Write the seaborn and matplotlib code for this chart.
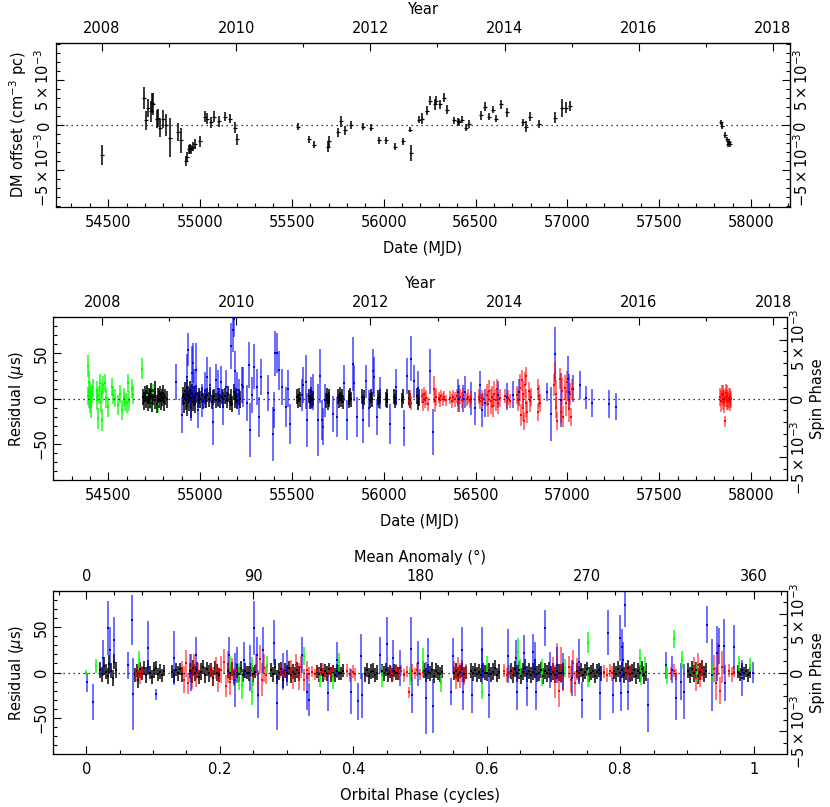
import numpy as np
import pandas as pd
import matplotlib
matplotlib.use("Agg")
import matplotlib.pyplot as plt
import seaborn as sns
from matplotlib.ticker import MultipleLocator, FixedLocator, FuncFormatter

sns.set_style("ticks")
plt.rcParams['font.family'] = ['DejaVu Sans']
plt.rcParams['mathtext.fontset'] = 'dejavusans'
for k in ('text.color', 'axes.labelcolor', 'xtick.color', 'ytick.color', 'axes.edgecolor'):
    plt.rcParams[k] = 'black'

# ---------------- DATA ----------------
# Panel 1: DM offsets (units of 1e-3 cm^-3 pc)
dm_mjd = [54467, 54693, 54705, 54718, 54731, 54738, 54744, 54764, 54771, 54782, 54800, 54814, 54836,
          54880, 54895, 54925, 54931, 54938, 54945, 54953, 54960, 54975, 55002, 55029, 55036, 55060,
          55078, 55104, 55136, 55162, 55189, 55202, 55536, 55591, 55622, 55696, 55704, 55751, 55767,
          55787, 55820, 55885, 55931, 55976, 56014, 56060, 56103, 56141, 56147, 56194, 56210, 56237,
          56252, 56279, 56286, 56305, 56326, 56346, 56385, 56405, 56410, 56426, 56450, 56467, 56532,
          56550, 56572, 56594, 56614, 56636, 56669, 56756, 56774, 56796, 56845, 56934, 56972, 56992,
          57015, 57837, 57844, 57857, 57868, 57877, 57882, 57888]
dm_val = [-3.3, 3.0, 0.5, 1.9, 1.5, 2.4, 2.3, 0.7, 0.8, -0.3, 0.7, 0.0, -1.4,
          -0.8, -1.7, -4.0, -3.5, -2.7, -2.6, -2.7, -2.4, -2.1, -1.8, 0.9, 0.7, 0.3,
          0.9, 0.4, 0.9, 0.7, -0.3, -1.6, -0.2, -1.6, -2.2, -2.4, -1.8, -0.8, 0.4,
          -0.6, 0.0, -0.2, -0.3, -1.7, -1.7, -2.4, -1.8, -0.5, -3.1, 0.6, 0.7, 1.6,
          2.7, 2.3, 2.7, 2.3, 3.0, 1.7, 0.5, 0.4, 0.3, 0.6, -0.3, 0.1, 1.1,
          2.0, 0.9, 1.7, 0.7, 2.3, 1.4, 0.3, -0.2, 0.9, 0.1, 0.8, 1.9, 1.9,
          2.1, 0.3, -0.1, -1.1, -1.6, -2.1, -1.9, -2.1]
dm_err = [1.1, 1.2, 1.0, 1.0, 1.2, 1.1, 1.2, 1.0, 1.0, 1.0, 1.0, 1.2, 2.2,
          1.0, 1.4, 0.6, 0.5, 0.5, 0.5, 0.5, 0.5, 0.6, 0.6, 0.6, 0.6, 0.6,
          0.6, 0.6, 0.5, 0.5, 0.6, 0.6, 0.4, 0.4, 0.4, 0.6, 0.6, 0.5, 0.6,
          0.5, 0.4, 0.4, 0.4, 0.4, 0.4, 0.4, 0.4, 0.3, 0.9, 0.4, 0.6, 0.5,
          0.5, 0.6, 0.5, 0.5, 0.5, 0.5, 0.4, 0.4, 0.4, 0.4, 0.4, 0.4, 0.5,
          0.5, 0.4, 0.4, 0.4, 0.5, 0.5, 0.4, 0.6, 0.5, 0.4, 0.6, 1.0, 0.6,
          0.6, 0.3, 0.3, 0.3, 0.3, 0.3, 0.3, 0.3]

# Panel 2: timing residuals vs MJD  (mjd, residual us, error us)
p2_green = [(54387, 36, 12), (54390, 3, 10), (54393, 18, 12), (54396, -1, 10), (54400, 8, 10),
            (54402, -6, 10), (54405, 2, 11), (54408, -9, 12), (54411, 5, 10), (54418, 12, 10),
            (54436, 9, 10), (54440, -2, 11), (54446, -22, 12), (54450, 4, 10), (54455, 17, 10),
            (54460, -4, 11), (54464, -24, 12), (54468, 7, 10), (54473, 15, 10), (54482, 17, 10),
            (54490, 1, 11), (54500, -9, 11), (54518, 13, 10), (54524, 4, 10), (54536, 1, 10),
            (54554, -7, 11), (54564, 5, 10), (54573, -13, 11), (54585, 2, 10), (54591, -4, 10),
            (54600, -5, 11), (54609, 17, 10), (54614, -3, 11), (54627, 11, 10), (54632, 4, 10),
            (54681, 33, 12), (54709, 4, 10), (54727, -1, 11), (54745, 6, 10), (54772, -6, 10)]
p2_black = [(54690, 2, 9), (54696, -3, 10), (54702, 5, 9), (54707, -1, 10), (54712, 6, 9),
            (54718, -4, 10), (54723, 3, 9), (54729, 0, 10), (54735, 8, 9), (54740, -5, 10),
            (54746, 2, 9), (54752, -2, 10), (54757, 10, 9), (54763, -6, 10), (54769, 3, 9),
            (54775, -1, 10), (54781, 5, 9), (54787, -3, 10), (54793, 1, 9), (54799, 6, 9),
            (54805, -4, 10), (54811, 2, 9), (54817, -1, 9),
            (54908, 3, 10), (54913, -5, 11), (54918, 8, 10), (54922, -2, 11), (54927, 12, 10),
            (54931, -8, 11), (54935, 4, 10), (54940, -3, 11), (54944, 9, 10), (54949, -10, 11),
            (54953, 1, 10), (54958, 6, 10), (54963, -4, 10), (54968, 2, 10), (54974, -6, 10),
            (54980, 5, 10), (54987, -2, 9), (54994, 3, 9), (55001, -1, 9), (55009, 4, 9), (55015, -3, 9),
            (55024, 2, 8), (55030, -3, 8), (55038, 4, 8), (55046, -1, 8), (55055, 5, 8),
            (55062, -4, 8), (55070, 1, 8), (55078, 3, 8), (55086, -2, 8), (55095, 0, 8),
            (55103, 4, 8), (55110, -3, 8), (55118, 2, 8), (55125, -1, 8),
            (55138, 3, 9), (55146, -2, 9), (55154, 5, 9), (55161, -4, 9), (55168, 1, 9),
            (55175, -6, 9), (55182, 7, 9), (55189, -1, 9), (55196, 3, 9), (55203, -3, 9),
            (55210, 2, 9), (55216, -1, 9),
            (55528, 2, 8), (55533, -3, 8), (55537, 4, 8), (55541, -1, 8),
            (55590, 3, 8), (55596, -4, 8), (55601, 1, 8), (55606, 5, 8), (55611, -2, 8), (55615, 0, 8),
            (55686, -2, 8), (55691, 4, 8), (55695, -5, 8), (55699, 2, 8), (55703, -1, 8),
            (55752, 2, 8), (55757, -3, 8), (55762, 5, 8), (55767, -1, 8), (55772, 3, 8), (55777, -4, 8),
            (55808, 1, 8), (55813, -3, 8), (55818, 4, 8), (55823, -1, 8),
            (55880, 2, 8), (55885, -4, 8), (55890, 1, 8),
            (55924, -2, 8), (55929, 3, 8), (55933, -1, 8),
            (55970, 1, 8), (55975, -3, 8), (55979, 2, 8),
            (56011, -1, 8), (56016, 3, 8), (56020, -2, 8),
            (56057, 2, 8), (56062, -3, 8), (56066, 1, 8),
            (56099, -2, 8), (56104, 2, 8),
            (56139, 1, 8), (56144, -2, 8),
            (56183, 3, 9), (56187, -4, 9), (56191, 1, 9)]
p2_blue = [(54868, 18, 20), (54899, -18, 20), (54926, 24, 25), (54936, 54, 18), (54948, -5, 20),
           (54954, 28, 30), (54959, 39, 22), (54966, 13, 20), (54977, 31, 30), (54990, -13, 20),
           (55008, -2, 18), (55026, 9, 20), (55035, 24, 22), (55054, 15, 20), (55072, -26, 25),
           (55084, 20, 18), (55099, 11, 20), (55112, 18, 18), (55126, -9, 20), (55139, 13, 18),
           (55166, 58, 25), (55177, 76, 25), (55184, 88, 20), (55190, 30, 22), (55199, 9, 20),
           (55213, 2, 20), (55226, 15, 20), (55235, 13, 22), (55253, -5, 20), (55266, 37, 25),
           (55271, -35, 30), (55284, 4, 20), (55293, 35, 25), (55308, 13, 20), (55322, -20, 22),
           (55331, 24, 20), (55371, 6, 20), (55395, -39, 30), (55402, -13, 20), (55410, 50, 25),
           (55417, 50, 22), (55431, 31, 22), (55447, 13, 20), (55466, -9, 22), (55477, 11, 20),
           (55489, -28, 22), (55552, 4, 18), (55561, 15, 20), (55576, 18, 30), (55583, -24, 30),
           (55601, 6, 18), (55616, 7, 20), (55639, -24, 40), (55652, 25, 30), (55661, -24, 22),
           (55670, -31, 20), (55679, -2, 18), (55725, -17, 20), (55743, -20, 22), (55785, 17, 20),
           (55801, -24, 22), (55830, 38, 30), (55839, 17, 20), (55852, -20, 22), (55885, -24, 25),
           (55903, 19, 18), (55919, -11, 20), (55943, 30, 25), (55948, 24, 22), (55965, -20, 20),
           (55979, 6, 18), (56033, -28, 22), (56066, 13, 20), (56110, -33, 20), (56128, 25, 20),
           (56146, 44, 25), (56164, 19, 18), (56188, 12, 18), (56251, 30, 25), (56270, -37, 25),
           (56406, 7, 15), (56411, 0, 15), (56433, 0, 15), (56443, 7, 18), (56473, 0, 18),
           (56497, -11, 18), (56524, 15, 15), (56534, -13, 18), (56552, -5, 15), (56619, 4, 15),
           (56670, 2, 15), (56703, 4, 15), (56734, 7, 15), (56887, 7, 10), (56909, -17, 30),
           (56932, 49, 30), (56965, -2, 30), (57001, 22, 25), (57010, 7, 20), (57032, 11, 15),
           (57068, 15, 15), (57101, 1, 13), (57135, -5, 15), (57228, -6, 15), (57263, -9, 15)]
p2_red = [(56135, -2, 6), (56143, 2, 7), (56150, -5, 8),
          (56208, 3, 8), (56214, -4, 10), (56220, 5, 8), (56226, -2, 9), (56232, 1, 8), (56238, -6, 8),
          (56272, 10, 15), (56278, -3, 12), (56285, 2, 10),
          (56298, 1, 6), (56305, -2, 7), (56312, 3, 6), (56320, -1, 7), (56328, 2, 6), (56336, -2, 6),
          (56362, 1, 7), (56370, -3, 8), (56378, 2, 7), (56386, -1, 8),
          (56398, 3, 8), (56406, -5, 10), (56415, 2, 8), (56424, -2, 9), (56432, 4, 8),
          (56452, -1, 7), (56460, 2, 8), (56470, -3, 7), (56477, 1, 7),
          (56516, 2, 8), (56524, -3, 9), (56532, 1, 8), (56540, -1, 7),
          (56562, 4, 12), (56568, -6, 14), (56575, 8, 12), (56582, -3, 14), (56588, 2, 12),
          (56595, -8, 12), (56602, 5, 14), (56610, -2, 12), (56617, 10, 12), (56624, -5, 12), (56631, 1, 10),
          (56662, 3, 8), (56670, -2, 8), (56678, 1, 8), (56686, -3, 8),
          (56725, 4, 10), (56732, -2, 12), (56740, 12, 15), (56746, -18, 12), (56752, 20, 12),
          (56756, -10, 15), (56760, 5, 14), (56764, -25, 10), (56768, 15, 14), (56772, -5, 15),
          (56776, 25, 10), (56779, -15, 12),
          (56790, 8, 10), (56795, -3, 12), (56800, 2, 10), (56838, 10, 12), (56842, -15, 10),
          (56846, 3, 12), (56850, -5, 10),
          (56924, 15, 12), (56930, 28, 12), (56935, -10, 12), (56938, 5, 15), (56942, -25, 10),
          (56960, 22, 12), (56966, -15, 12), (56972, 8, 15), (56978, -20, 12), (56984, 12, 14),
          (56990, -5, 14), (56995, 18, 12), (57006, -12, 14), (57012, 5, 12), (57018, -20, 10), (57023, 10, 12),
          (57832, 2, 10), (57836, -3, 12), (57840, 5, 10), (57844, -1, 12), (57848, 4, 11),
          (57852, -4, 12), (57856, 1, 10), (57860, -25, 6), (57862, 6, 10), (57866, -2, 11),
          (57870, 3, 12), (57874, -3, 10), (57878, 1, 11), (57882, -4, 10), (57886, 2, 10), (57890, -1, 9)]

# Panel 3: residuals vs orbital phase  (phase, residual us, error us)
p3_green = [(0.000, 0, 3), (0.015, 7, 8), (0.079, 14, 10), (0.215, 8, 10), (0.2285, -4, 15),
            (0.2325, -14, 15), (0.2475, -21, 15), (0.2485, 7, 10), (0.271, 8, 10),
            (0.326, 18, 10), (0.350, -6, 10), (0.369, -8, 10), (0.379, 12, 10), (0.4425, -4, 12),
            (0.4855, -4, 10), (0.504, 12, 15), (0.5315, -12, 10), (0.5925, -21, 8), (0.600, 8, 10),
            (0.6475, 23, 15), (0.650, 5, 10), (0.6825, 0, 15), (0.7175, 5, 10), (0.7515, 33, 12),
            (0.7525, -6, 10), (0.830, 16, 10), (0.831, -4, 10), (0.8375, 7, 10), (0.870, -3, 10),
            (0.881, 37, 10), (0.8925, 14, 10), (0.915, 0, 10), (0.939, 0, 10), (0.9775, 10, 8),
            (0.995, 8, 8)]
p3_black = [(0.021, 3, 9), (0.024, -2, 8), (0.026, 7, 10), (0.029, 1, 8), (0.032, -4, 9), (0.034, 9, 10),
            (0.037, 2, 8), (0.040, -6, 9), (0.042, 12, 8), (0.045, 3, 9),
            (0.073, -3, 8), (0.076, 2, 7), (0.078, -8, 9), (0.081, 4, 8), (0.084, -1, 7), (0.087, 5, 8),
            (0.090, -3, 9), (0.093, 6, 8), (0.095, 0, 7), (0.098, -5, 8), (0.101, 3, 9), (0.104, 5, 8),
            (0.107, -2, 7), (0.110, 1, 8), (0.113, -3, 7), (0.116, 2, 6),
            (0.128, 1, 7), (0.131, -4, 8), (0.134, 3, 7), (0.137, -1, 8), (0.140, 4, 7), (0.143, -2, 8),
            (0.155, 2, 8), (0.158, -4, 8), (0.160, 5, 9), (0.163, -1, 8), (0.166, 3, 9), (0.169, -5, 8),
            (0.172, 1, 9), (0.175, 6, 8), (0.178, -3, 9), (0.181, 4, 8), (0.184, -1, 9), (0.187, 3, 8),
            (0.190, -6, 9), (0.193, 5, 8), (0.196, 0, 9), (0.199, -3, 8),
            (0.213, 2, 8), (0.216, -1, 7), (0.219, 4, 8), (0.222, -5, 8), (0.225, 1, 7), (0.228, -2, 8),
            (0.231, 5, 8), (0.234, -3, 7), (0.237, 2, 8), (0.240, 0, 7), (0.243, -1, 8), (0.246, 3, 7),
            (0.249, -2, 8), (0.252, 1, 7),
            (0.276, 3, 8), (0.279, -2, 8), (0.282, 6, 9), (0.285, -5, 8), (0.288, 1, 9), (0.291, 4, 8),
            (0.294, -8, 9), (0.297, 2, 8), (0.300, -1, 9), (0.303, 5, 8), (0.306, -3, 9), (0.309, 1, 8),
            (0.312, -2, 8), (0.315, 3, 9), (0.318, -1, 8),
            (0.346, 1, 7), (0.349, -2, 8), (0.352, 3, 7), (0.355, -3, 8), (0.358, 2, 7), (0.361, -1, 8),
            (0.364, 4, 7), (0.367, -2, 8), (0.370, 1, 7), (0.373, -3, 8), (0.376, 2, 7), (0.379, 0, 8),
            (0.382, -1, 7), (0.385, 2, 7),
            (0.418, -2, 8), (0.421, 3, 8), (0.424, -4, 9), (0.427, 1, 8), (0.430, 2, 8), (0.433, -3, 8),
            (0.436, 0, 8), (0.443, 2, 7), (0.446, -1, 8), (0.449, 3, 7), (0.452, -2, 8), (0.455, 1, 7),
            (0.458, -3, 8), (0.461, 2, 7), (0.464, 0, 8), (0.467, -1, 7),
            (0.506, 2, 8), (0.509, -3, 8), (0.512, 1, 8), (0.515, -1, 8), (0.518, 3, 9), (0.521, -4, 8),
            (0.524, 2, 8), (0.527, 0, 8), (0.530, -2, 8), (0.533, 1, 7),
            (0.551, -1, 7), (0.554, 2, 8), (0.557, -3, 8), (0.560, 1, 7), (0.563, 3, 8), (0.566, -2, 8),
            (0.569, 0, 7), (0.576, 2, 8), (0.579, -1, 8), (0.582, 3, 8), (0.585, -2, 8), (0.588, 1, 8),
            (0.591, -3, 8), (0.594, 2, 8), (0.597, 0, 8), (0.600, -1, 8), (0.603, 3, 8), (0.606, -2, 8),
            (0.609, 1, 9), (0.612, 5, 9), (0.615, -3, 8), (0.618, 1, 8),
            (0.636, 2, 9), (0.639, -3, 9), (0.642, 4, 9), (0.645, -1, 9), (0.648, 3, 10), (0.651, -4, 9),
            (0.654, 1, 9), (0.657, 5, 10), (0.660, -2, 9), (0.663, 2, 9), (0.666, -3, 9), (0.669, 1, 9),
            (0.672, 4, 10), (0.675, -2, 9), (0.678, 0, 9), (0.681, 3, 9), (0.684, -4, 9), (0.687, 2, 9),
            (0.690, -1, 9), (0.693, 3, 9), (0.696, -2, 9), (0.699, 1, 9), (0.702, -3, 9), (0.705, 2, 9),
            (0.708, 0, 9), (0.711, -1, 9), (0.714, 2, 9),
            (0.736, 2, 8), (0.739, -1, 8), (0.742, 3, 8), (0.745, -3, 8), (0.748, 1, 8), (0.751, 4, 8),
            (0.754, -2, 8), (0.757, 0, 8), (0.760, 2, 8), (0.763, -4, 8), (0.766, 1, 8), (0.769, 3, 8),
            (0.772, -1, 8),
            (0.791, 2, 9), (0.794, -2, 9), (0.797, 4, 9), (0.800, -1, 9), (0.803, 3, 9), (0.806, -3, 9),
            (0.809, 1, 9), (0.812, 5, 9), (0.815, -2, 9), (0.818, 0, 9), (0.821, 3, 9), (0.824, -4, 9),
            (0.827, 2, 9), (0.830, -1, 9), (0.833, 4, 9), (0.836, -3, 10), (0.839, 1, 10),
            (0.901, 2, 8), (0.904, -3, 9), (0.907, 4, 9), (0.910, -1, 9), (0.913, 3, 9), (0.916, -4, 9),
            (0.919, 1, 9), (0.922, 5, 9), (0.925, -2, 9), (0.928, 2, 8),
            (0.976, 1, 7), (0.979, -2, 7), (0.982, 3, 7), (0.985, -1, 7), (0.988, 2, 7), (0.991, -3, 7),
            (0.994, 0, 6)]
p3_blue = [(0.0015, -11, 11), (0.010, -33, 20), (0.025, 16, 20), (0.0325, 49, 30), (0.036, 25, 25),
           (0.0415, 36, 25), (0.062, 8, 15), (0.068, 58, 28), (0.070, -24, 40), (0.0925, 27, 30),
           (0.104, -24, 6), (0.1315, 16, 30), (0.1575, 0, 20), (0.164, 19, 20), (0.2135, 19, 20),
           (0.2235, -8, 30), (0.226, 8, 20), (0.2365, 14, 20), (0.245, 5, 25), (0.251, 49, 30),
           (0.255, 19, 20), (0.2575, -25, 25), (0.265, 25, 25), (0.2815, 33, 25), (0.285, -34, 30),
           (0.295, 1, 20), (0.300, 5, 20),
           (0.3225, 19, 20), (0.330, -21, 20), (0.334, -30, 18), (0.3625, -23, 20), (0.375, 14, 20),
           (0.3965, -21, 25), (0.4075, -32, 20), (0.4115, 18, 25), (0.4125, -25, 25), (0.440, 19, 20),
           (0.450, 31, 30), (0.460, 16, 20), (0.470, 5, 20), (0.4865, 26, 35), (0.4875, -25, 20),
           (0.4975, 10, 25), (0.509, -28, 40), (0.5125, 18, 20), (0.520, -37, 30), (0.5465, -21, 15),
           (0.550, 18, 20), (0.5625, 25, 25), (0.565, -21, 20), (0.5785, -25, 20), (0.5925, 25, 25),
           (0.5935, 7, 20), (0.6035, -25, 25), (0.6325, 18, 30), (0.6435, 16, 20), (0.645, -21, 20),
           (0.656, 21, 20), (0.660, -17, 20), (0.669, 23, 20),
           (0.6725, 14, 20), (0.674, -21, 20), (0.6875, 49, 20), (0.695, 3, 20), (0.705, 8, 20),
           (0.715, 1, 20), (0.7275, -6, 20), (0.739, 12, 25), (0.7425, -30, 20), (0.770, -23, 30),
           (0.781, 44, 25), (0.789, -25, 20), (0.800, 38, 25), (0.8025, 28, 20), (0.804, 14, 20),
           (0.8015, -23, 20), (0.8075, 75, 25), (0.8115, -21, 20), (0.8415, -36, 30), (0.869, 8, 15),
           (0.8775, 3, 15), (0.8835, -28, 25), (0.891, -10, 20), (0.896, -21, 30), (0.930, 53, 20),
           (0.9375, -3, 40), (0.945, 21, 30), (0.9475, 29, 20), (0.955, 29, 30), (0.9565, -12, 20),
           (0.971, 28, 25), (0.9825, -6, 20), (0.9985, 0, 12)]
p3_red = [(0.074, -3, 8), (0.077, 2, 7), (0.080, -5, 8), (0.083, 1, 6),
          (0.144, 3, 10), (0.147, -8, 15), (0.150, 10, 15), (0.153, -12, 12), (0.156, 5, 15),
          (0.159, -4, 14), (0.162, 8, 12), (0.165, -6, 10), (0.168, 2, 8),
          (0.186, 2, 8), (0.190, -4, 10), (0.194, 5, 12), (0.198, -8, 14), (0.202, 3, 15),
          (0.206, 12, 14), (0.209, -15, 12), (0.212, 6, 18), (0.215, -10, 15), (0.218, 4, 12),
          (0.221, -5, 10), (0.224, 2, 8),
          (0.246, 3, 8), (0.250, -5, 10), (0.254, 8, 12), (0.257, -12, 15), (0.260, 15, 15),
          (0.263, -8, 18), (0.266, 5, 15), (0.269, -3, 10),
          (0.290, 2, 8), (0.294, -3, 8), (0.298, 1, 7),
          (0.306, 4, 10), (0.310, -6, 12), (0.314, 8, 12), (0.318, -4, 15), (0.322, 6, 12),
          (0.326, -8, 12), (0.330, 3, 10), (0.334, -2, 8),
          (0.338, 1, 6), (0.342, -2, 6), (0.346, 2, 6), (0.350, -1, 6), (0.354, 3, 7), (0.358, -2, 6),
          (0.362, 1, 6), (0.366, -3, 7), (0.370, 2, 6),
          (0.391, 2, 7), (0.395, -3, 8), (0.399, 1, 7), (0.403, -2, 7),
          (0.456, 1, 6), (0.460, -2, 7), (0.464, 3, 6), (0.468, -1, 7), (0.472, 2, 6), (0.476, -3, 7),
          (0.480, 1, 6), (0.484, -22, 6), (0.488, 2, 7), (0.492, -1, 6), (0.496, 3, 7), (0.500, -2, 6),
          (0.504, 1, 6),
          (0.551, 3, 10), (0.554, -6, 12), (0.557, 5, 12), (0.560, -3, 14), (0.563, 2, 12),
          (0.566, -4, 10), (0.569, 1, 8),
          (0.626, 2, 7), (0.630, -3, 8), (0.634, 1, 7), (0.638, -1, 7),
          (0.700, 5, 12), (0.703, -10, 18), (0.706, 15, 18), (0.709, -20, 18), (0.712, 8, 20), (0.715, -5, 15),
          (0.723, 6, 12), (0.726, -8, 15), (0.729, 10, 15), (0.732, -12, 14), (0.735, 4, 12), (0.738, -3, 10),
          (0.776, 1, 7), (0.780, -3, 8), (0.784, 2, 7), (0.788, -1, 8),
          (0.808, 2, 8), (0.812, -3, 8), (0.815, 1, 7),
          (0.876, -1, 7), (0.880, 2, 7), (0.884, -2, 6),
          (0.911, 5, 12), (0.914, -6, 14), (0.917, 8, 14), (0.920, -4, 12), (0.923, 2, 10),
          (0.940, 4, 15), (0.943, -12, 18), (0.946, 15, 18), (0.949, -20, 15), (0.952, 6, 18),
          (0.963, 2, 7), (0.967, -2, 8), (0.970, 1, 6)]

year_ticks = [2008, 2010, 2012, 2014, 2016, 2018]
year_minor = [2007, 2008, 2009, 2010, 2011, 2012, 2013, 2014, 2015, 2016, 2017, 2018]
anom_ticks = [0, 90, 180, 270, 360]
SPIN_PERIOD_US = 13.0   # spin phase (1e-3) = residual(us) / 13.0
FS = 10.5

# ---------------- HELPERS ----------------
def mjd2yr(m):
    return 2000.0 + (np.asarray(m, dtype=float) - 51544.5) / 365.25

def yr2mjd(y):
    return (np.asarray(y, dtype=float) - 2000.0) * 365.25 + 51544.5

def sci(v, pos):
    if abs(v) < 1e-9:
        return "0"
    return r"$%d\times10^{-3}$" % int(round(v))

def style_ticks(ax_like, axis, pad=None):
    kw = dict(direction='in', length=6, width=0.8, labelsize=FS, colors='black')
    if pad is not None:
        kw['pad'] = pad
    ax_like.tick_params(axis=axis, which='major', **kw)
    ax_like.tick_params(axis=axis, which='minor', direction='in', length=3.2, width=0.8)

def to_df(rows):
    return pd.DataFrame(rows, columns=['x', 'y', 'e'])

def draw_series(ax, rows, color, bar_alpha, lw=1.15, s=3.5):
    df = to_df(rows)
    ax.vlines(df['x'], df['y'] - df['e'], df['y'] + df['e'], colors=color,
              linewidth=lw, alpha=bar_alpha, zorder=2)
    sns.scatterplot(data=df, x='x', y='y', ax=ax, color=color, s=s, marker='s',
                    linewidth=0, legend=False, zorder=3)

def rotate_ylabels(ax_like):
    for t in ax_like.get_yticklabels():
        t.set_rotation(90)
        t.set_va('center')

def spin_axis(ax):
    sy = ax.secondary_yaxis('right', functions=(lambda v: v / SPIN_PERIOD_US,
                                                lambda v: v * SPIN_PERIOD_US))
    sy.yaxis.set_major_locator(FixedLocator([-5, 0, 5]))
    sy.yaxis.set_minor_locator(MultipleLocator(1))
    sy.yaxis.set_major_formatter(FuncFormatter(sci))
    style_ticks(sy, 'y', pad=2)
    rotate_ylabels(sy)
    sy.set_ylabel('Spin Phase', fontsize=FS, labelpad=1)
    return sy

def year_axis(ax):
    sx = ax.secondary_xaxis('top', functions=(mjd2yr, yr2mjd))
    sx.xaxis.set_major_locator(FixedLocator(year_ticks))
    sx.xaxis.set_minor_locator(FixedLocator(year_minor))
    sx.xaxis.set_major_formatter(FuncFormatter(lambda v, p: "%d" % round(v)))
    style_ticks(sx, 'x', pad=5)
    sx.set_xlabel('Year', fontsize=FS, labelpad=5)
    return sx

fig = plt.figure(figsize=(8.30, 8.07), dpi=100)
W, H = 830.0, 807.0
def box(l, r, t, b):
    return [l / W, 1 - b / H, (r - l) / W, (b - t) / H]

XL_MJD = (54199, 58195)
BLUE = (0.0, 0.0, 1.0)
RED = (1.0, 0.0, 0.0)
GREEN = (0.0, 1.0, 0.0)

# ---------------- PANEL 1 ----------------
ax1 = fig.add_axes(box(56, 790, 43, 207))
dm_df = pd.DataFrame({'mjd': dm_mjd, 'dm': dm_val, 'err': dm_err})
ax1.vlines(dm_df['mjd'], dm_df['dm'] - dm_df['err'], dm_df['dm'] + dm_df['err'],
           colors='black', linewidth=1.1, zorder=2)
sns.scatterplot(data=dm_df, x='mjd', y='dm', ax=ax1, color='black', marker='_', s=10,
                linewidth=0.9, legend=False, zorder=3)
ax1.axhline(0, color='black', ls=(0, (1, 3)), lw=0.9, zorder=1)
ax1.set_xlim(XL_MJD[0] + 17, XL_MJD[1] + 17)
ax1.set_ylim(-9.1, 9.1)
ax1.xaxis.set_major_locator(FixedLocator([54500, 55000, 55500, 56000, 56500, 57000, 57500, 58000]))
ax1.xaxis.set_minor_locator(MultipleLocator(100))
ax1.yaxis.set_major_locator(FixedLocator([-5, 0, 5]))
ax1.yaxis.set_minor_locator(MultipleLocator(1))
ax1.yaxis.set_major_formatter(FuncFormatter(sci))
ax1.set_xlabel('Date (MJD)', fontsize=FS, labelpad=8)
ax1.set_ylabel(r'DM offset (cm$^{-3}$ pc)', fontsize=FS, labelpad=3)
style_ticks(ax1, 'both')
ax1.tick_params(axis='x', pad=6)
ax1.tick_params(axis='y', pad=3)
rotate_ylabels(ax1)
year_axis(ax1)
sy1 = ax1.secondary_yaxis('right', functions=(lambda v: v, lambda v: v))
sy1.yaxis.set_major_locator(FixedLocator([-5, 0, 5]))
sy1.yaxis.set_minor_locator(MultipleLocator(1))
sy1.yaxis.set_major_formatter(FuncFormatter(sci))
style_ticks(sy1, 'y', pad=2)
rotate_ylabels(sy1)

# ---------------- PANEL 2 ----------------
ax2 = fig.add_axes(box(53, 787, 317, 480))
draw_series(ax2, p2_green, GREEN, 0.85)
draw_series(ax2, p2_black, 'black', 0.95)
draw_series(ax2, p2_blue, BLUE, 0.7)
draw_series(ax2, p2_red, RED, 0.65)
ax2.axhline(0, color='black', ls=(0, (1, 3)), lw=0.9, zorder=4)
ax2.set_xlim(*XL_MJD)
ax2.set_ylim(-90, 90)
ax2.xaxis.set_major_locator(FixedLocator([54500, 55000, 55500, 56000, 56500, 57000, 57500, 58000]))
ax2.xaxis.set_minor_locator(MultipleLocator(100))
ax2.yaxis.set_major_locator(FixedLocator([-50, 0, 50]))
ax2.yaxis.set_minor_locator(MultipleLocator(10))
ax2.set_xlabel('Date (MJD)', fontsize=FS, labelpad=8)
ax2.set_ylabel(r'Residual ($\mu$s)', fontsize=FS, labelpad=6)
style_ticks(ax2, 'both')
ax2.tick_params(axis='x', pad=6)
ax2.tick_params(axis='y', pad=3)
rotate_ylabels(ax2)
year_axis(ax2)
spin_axis(ax2)

# ---------------- PANEL 3 ----------------
ax3 = fig.add_axes(box(53, 787, 591, 754))
draw_series(ax3, p3_black, 'black', 0.95)
draw_series(ax3, p3_red, RED, 0.65)
draw_series(ax3, p3_blue, BLUE, 0.7)
draw_series(ax3, p3_green, GREEN, 0.9)
ax3.axhline(0, color='black', ls=(0, (1, 3)), lw=0.9, zorder=4)
ax3.set_xlim(-0.05, 1.05)
ax3.set_ylim(-90, 90)
ax3.xaxis.set_major_locator(FixedLocator([0, 0.2, 0.4, 0.6, 0.8, 1.0]))
ax3.xaxis.set_minor_locator(MultipleLocator(0.05))
ax3.xaxis.set_major_formatter(FuncFormatter(lambda v, p: "%g" % round(v, 1)))
ax3.yaxis.set_major_locator(FixedLocator([-50, 0, 50]))
ax3.yaxis.set_minor_locator(MultipleLocator(10))
ax3.set_xlabel('Orbital Phase (cycles)', fontsize=FS, labelpad=8)
ax3.set_ylabel(r'Residual ($\mu$s)', fontsize=FS, labelpad=6)
style_ticks(ax3, 'both')
ax3.tick_params(axis='x', pad=6)
ax3.tick_params(axis='y', pad=3)
rotate_ylabels(ax3)
sx3 = ax3.secondary_xaxis('top', functions=(lambda v: v * 360.0, lambda v: v / 360.0))
sx3.xaxis.set_major_locator(FixedLocator(anom_ticks))
sx3.xaxis.set_minor_locator(MultipleLocator(15))
style_ticks(sx3, 'x', pad=5)
sx3.set_xlabel('Mean Anomaly (\u00b0)', fontsize=FS, labelpad=5)
spin_axis(ax3)

for a in (ax1, ax2, ax3):
    for sp in a.spines.values():
        sp.set_linewidth(0.9)
        sp.set_color('black')
    a.set_facecolor('white')

fig.savefig('out.png', dpi=100, facecolor='white')
